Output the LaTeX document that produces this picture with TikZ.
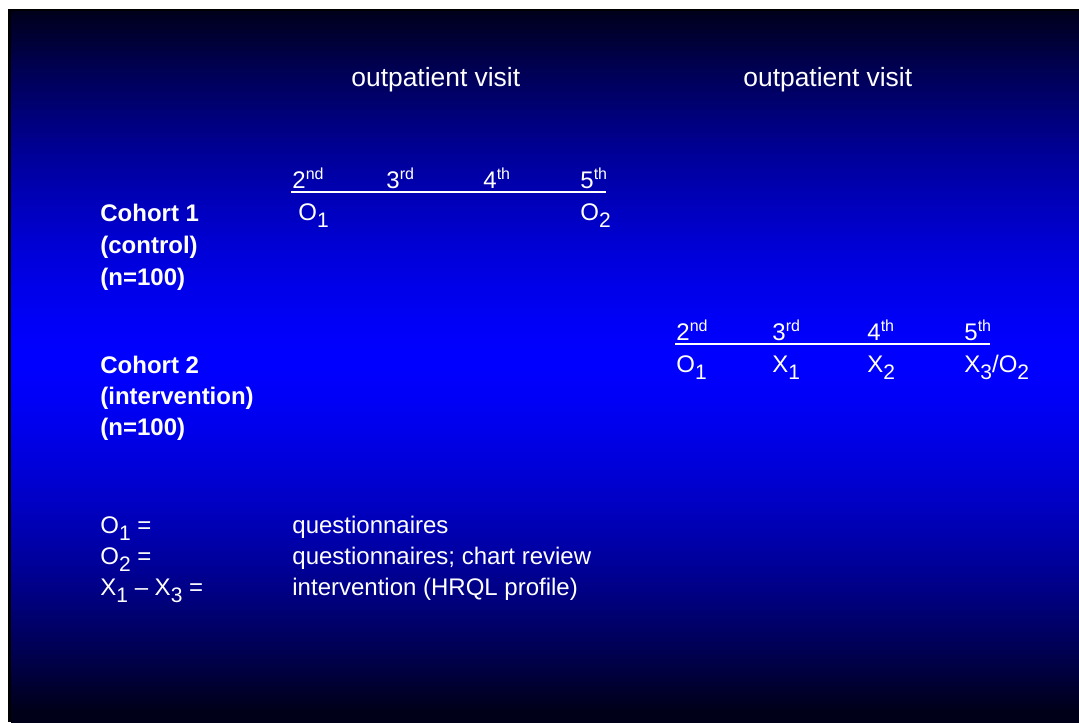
\documentclass[tikz,border=0pt]{standalone}
\usepackage{fontspec}
\setmainfont{Liberation Sans}
\usetikzlibrary{positioning}
\definecolor{deep}{RGB}{0,0,24}
\definecolor{bright}{RGB}{0,0,255}
\newcommand\lowidx[1]{\raisebox{-3.6pt}{\fontsize{10.5}{10.5}\selectfont #1}}

\begin{document}
\begin{tikzpicture}[x=0.5pt,y=-0.5pt,
  txt/.style={text=white,inner sep=0pt,anchor=base west,font=\fontsize{12}{16}\selectfont},
  head/.style={txt,font=\fontsize{13.2}{16}\selectfont},
  cohort/.style={txt,font=\fontsize{12}{16}\selectfont\bfseries},
  rule/.style={draw=white,line width=1.2pt}]
\useasboundingbox (0,0) rectangle (1079,722);
% slide background: dark at top and bottom, bright blue in the middle
\fill[black] (8,9) rectangle (1079,722);
\foreach \k in {0,...,158}{
  \pgfmathsetmacro\ya{11+4.5*\k}
  \pgfmathsetmacro\yb{\ya+5}
  \pgfmathsetmacro\mix{100*min(1,abs(\ya+2.25-360)/352)^1.5}
  \fill[deep!\mix!bright] (11,\ya) rectangle (1079,\yb);
}
% headings
\node[head] (visit1) at (351,87) {outpatient visit};
\node[head] (visit2) at (743,87) {outpatient visit};
% cohort labels
\node[cohort] (c1a) at (100,221) {Cohort 1};
\node[cohort] (c1b) at (100,253) {(control)};
\node[cohort] (c1c) at (100,285) {(n=100)};
\node[cohort] (c2a) at (100,373) {Cohort 2};
\node[cohort] (c2b) at (100,404) {(intervention)};
\node[cohort] (c2c) at (100,435) {(n=100)};
% cohort 1 time line
\node[txt] (a2) at (292,188) {2\textsuperscript{nd}};
\node[txt] (a3) at (386,188) {3\textsuperscript{rd}};
\node[txt] (a4) at (483,188) {4\textsuperscript{th}};
\node[txt] (a5) at (580,188) {5\textsuperscript{th}};
\coordinate (aL) at (291,192);
\coordinate (aR) at (606,192);
\draw[rule] (aL) -- (aR);
\node[txt] (ao1) at (298,220) {O\lowidx{1}};
\node[txt] (ao2) at (580,220) {O\lowidx{2}};
% cohort 2 time line
\node[txt] (b2) at (676,340) {2\textsuperscript{nd}};
\node[txt] (b3) at (772,340) {3\textsuperscript{rd}};
\node[txt] (b4) at (867,340) {4\textsuperscript{th}};
\node[txt] (b5) at (964,340) {5\textsuperscript{th}};
\coordinate (bL) at (675,344);
\coordinate (bR) at (990,344);
\draw[rule] (bL) -- (bR);
\node[txt] (bo1) at (676,372) {O\lowidx{1}};
\node[txt] (bx1) at (772,372) {X\lowidx{1}};
\node[txt] (bx2) at (867,372) {X\lowidx{2}};
\node[txt] (bx3) at (964,372) {X\lowidx{3}/O\lowidx{2}};
% legend
\node[txt] (k1) at (100,533) {O\lowidx{1} =};
\node[txt] (k2) at (100,564) {O\lowidx{2} =};
\node[txt] (k3) at (100,595) {X\lowidx{1} – X\lowidx{3} =};
\node[txt] (d1) at (292,533) {questionnaires};
\node[txt] (d2) at (292,564) {questionnaires; chart review};
\node[txt] (d3) at (292,595) {intervention (HRQL profile)};
\end{tikzpicture}
\end{document}
